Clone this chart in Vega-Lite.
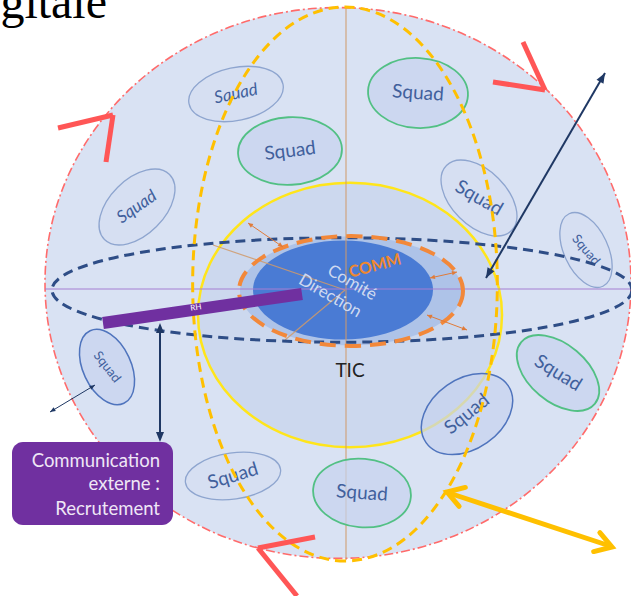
{
  "$schema": "https://vega.github.io/schema/vega-lite/v6.json",
  "width": 631,
  "height": 596,
  "padding": 0,
  "autosize": {"type": "none"},
  "background": "white",
  "config": {"view": {"stroke": null, "fill": null}},
  "datasets": {
    "squads": [
      {"id": 1, "x": 236, "y": 94, "r": 48, "form": "e55", "angle": 348, "ta": 348, "c": "thin", "f": "it", "t": "Squad"},
      {"id": 2, "x": 290, "y": 151, "r": 52, "form": "e65", "angle": 357, "ta": 353, "c": "green", "f": "big", "t": "Squad"},
      {"id": 3, "x": 418, "y": 93, "r": 50, "form": "e70", "angle": 3, "ta": 4, "c": "green", "f": "big", "t": "Squad"},
      {"id": 4, "x": 137, "y": 207, "r": 46, "form": "e60", "angle": 315, "ta": 325, "c": "thin", "f": "it", "t": "Squad"},
      {"id": 5, "x": 479, "y": 198, "r": 46, "form": "e60", "angle": 45, "ta": 30, "c": "thin", "f": "big", "t": "Squad"},
      {"id": 6, "x": 586, "y": 250, "r": 40, "form": "e55", "angle": 65, "ta": 50, "c": "thin", "f": "small", "t": "Squad"},
      {"id": 7, "x": 558, "y": 373, "r": 48, "form": "e60", "angle": 40, "ta": 32, "c": "green", "f": "big", "t": "Squad"},
      {"id": 8, "x": 467, "y": 414, "r": 50, "form": "e70", "angle": 325, "ta": 321, "c": "blue", "f": "big", "t": "Squad"},
      {"id": 9, "x": 362, "y": 493, "r": 49, "form": "e70", "angle": 5, "ta": 4, "c": "green", "f": "big", "t": "Squad"},
      {"id": 10, "x": 233, "y": 476, "r": 48, "form": "e48", "angle": 352, "ta": 343, "c": "thin", "f": "big", "t": "Squad"},
      {"id": 11, "x": 107, "y": 367, "r": 40, "form": "e60", "angle": 65, "ta": 52, "c": "blue", "f": "small", "t": "Squad"}
    ]
  },
  "encoding": {
    "x": {"field": "x", "type": "quantitative", "scale": {"domain": [0, 631], "nice": false, "zero": false}, "axis": null},
    "y": {"field": "y", "type": "quantitative", "scale": {"domain": [0, 596], "nice": false, "zero": false, "reverse": true}, "axis": null}
  },
  "layer": [
    {
      "encoding": {
        "size": {"field": "r", "type": "quantitative", "scale": {"type": "pow", "exponent": 2, "domain": [0, 300], "range": [0, 360000]}, "legend": null},
        "shape": {"field": "form", "type": "nominal", "legend": null, "scale": {
          "domain": ["e94", "e87", "e70", "e65", "e60", "e55", "e49", "e48", "e18"],
          "range": [
            "M1,0C1,0.519 0.552,0.94 0,0.94C-0.552,0.94 -1,0.519 -1,0C-1,-0.519 -0.552,-0.94 0,-0.94C0.552,-0.94 1,-0.519 1,0Z",
            "M1,0C1,0.48 0.552,0.87 0,0.87C-0.552,0.87 -1,0.48 -1,0C-1,-0.48 -0.552,-0.87 0,-0.87C0.552,-0.87 1,-0.48 1,0Z",
            "M1,0C1,0.387 0.552,0.7 0,0.7C-0.552,0.7 -1,0.387 -1,0C-1,-0.387 -0.552,-0.7 0,-0.7C0.552,-0.7 1,-0.387 1,0Z",
            "M1,0C1,0.359 0.552,0.65 0,0.65C-0.552,0.65 -1,0.359 -1,0C-1,-0.359 -0.552,-0.65 0,-0.65C0.552,-0.65 1,-0.359 1,0Z",
            "M1,0C1,0.331 0.552,0.6 0,0.6C-0.552,0.6 -1,0.331 -1,0C-1,-0.331 -0.552,-0.6 0,-0.6C0.552,-0.6 1,-0.331 1,0Z",
            "M1,0C1,0.304 0.552,0.55 0,0.55C-0.552,0.55 -1,0.304 -1,0C-1,-0.304 -0.552,-0.55 0,-0.55C0.552,-0.55 1,-0.304 1,0Z",
            "M1,0C1,0.271 0.552,0.49 0,0.49C-0.552,0.49 -1,0.271 -1,0C-1,-0.271 -0.552,-0.49 0,-0.49C0.552,-0.49 1,-0.271 1,0Z",
            "M1,0C1,0.265 0.552,0.48 0,0.48C-0.552,0.48 -1,0.265 -1,0C-1,-0.265 -0.552,-0.48 0,-0.48C0.552,-0.48 1,-0.265 1,0Z",
            "M1,0C1,0.099 0.552,0.18 0,0.18C-0.552,0.18 -1,0.099 -1,0C-1,-0.099 -0.552,-0.18 0,-0.18C0.552,-0.18 1,-0.099 1,0Z"
          ]}},
        "angle": {"field": "angle", "type": "quantitative", "scale": {"domain": [0, 360], "range": [0, 360]}, "legend": null}
      },
      "layer": [
        {"data": {"values": [{"x": 338, "y": 283, "r": 293, "form": "e94", "angle": 0}]},
         "mark": {"type": "point", "filled": true, "fill": "#d9e2f3", "stroke": "#ff6b6b", "strokeWidth": 1.6, "strokeDash": [9, 3, 2, 3], "opacity": 1}},
        {"data": {"values": [{"x": 350, "y": 315, "r": 152, "form": "e87", "angle": 0}]},
         "mark": {"type": "point", "filled": true, "fill": "#ccd8ee", "stroke": "#ffe51a", "strokeWidth": 2.5, "opacity": 1}},
        {"data": {"values": [{"x": 351, "y": 291, "r": 111, "form": "e49", "angle": 0}]},
         "mark": {"type": "point", "filled": true, "fill": "#aec3e8", "opacity": 1}},
        {"data": {"values": [{"x": 343, "y": 290, "r": 90, "form": "e55", "angle": 0}]},
         "mark": {"type": "point", "filled": true, "fill": "#4a7bd4", "opacity": 1}}
      ]
    },
    {
      "data": {"values": [{"x": 346, "y": 7, "x2": 346, "y2": 560}, {"x": 213, "y": 245, "x2": 345, "y2": 290}, {"x": 345, "y": 290, "x2": 285, "y2": 340}]},
      "mark": {"type": "rule", "stroke": "#d09a6a", "strokeWidth": 1.2, "opacity": 0.85},
      "encoding": {"x2": {"field": "x2"}, "y2": {"field": "y2"}}
    },
    {
      "data": {"values": [{"x": 45, "y": 289, "x2": 632, "y2": 289}]},
      "mark": {"type": "rule", "stroke": "#a57fd2", "strokeWidth": 1},
      "encoding": {"x2": {"field": "x2"}, "y2": {"field": "y2"}}
    },
    {
      "data": {"name": "squads"},
      "encoding": {
        "size": {"field": "r", "type": "quantitative", "scale": {"type": "pow", "exponent": 2, "domain": [0, 300], "range": [0, 360000]}, "legend": null},
        "shape": {"field": "form", "type": "nominal", "legend": null},
        "angle": {"field": "angle", "type": "quantitative", "scale": {"domain": [0, 360], "range": [0, 360]}, "legend": null}
      },
      "layer": [
        {"transform": [{"filter": "datum.c == 'thin'"}],
         "mark": {"type": "point", "filled": true, "fill": "#d3ddf1", "fillOpacity": 0.6, "stroke": "#8ea5cf", "strokeWidth": 1.3, "opacity": 1}},
        {"transform": [{"filter": "datum.c == 'green'"}],
         "mark": {"type": "point", "filled": true, "fill": "#c6d3ee", "fillOpacity": 0.7, "stroke": "#52c084", "strokeWidth": 1.8, "opacity": 1}},
        {"transform": [{"filter": "datum.c == 'blue'"}],
         "mark": {"type": "point", "filled": true, "fill": "#c6d3ee", "fillOpacity": 0.7, "stroke": "#4f74bd", "strokeWidth": 1.5, "opacity": 1}}
      ]
    },
    {
      "data": {"name": "squads"},
      "encoding": {
        "text": {"field": "t"},
        "angle": {"field": "ta", "type": "quantitative", "scale": {"domain": [0, 360], "range": [0, 360]}, "legend": null}
      },
      "layer": [
        {"transform": [{"filter": "datum.f == 'it'"}],
         "mark": {"type": "text", "font": "Lato", "fontStyle": "italic", "fontSize": 17, "color": "#41609c"}},
        {"transform": [{"filter": "datum.f == 'big'"}],
         "mark": {"type": "text", "font": "Lato", "fontSize": 19, "color": "#41609c"}},
        {"transform": [{"filter": "datum.f == 'small'"}],
         "mark": {"type": "text", "font": "Lato", "fontSize": 13, "color": "#41609c"}}
      ]
    },
    {
      "encoding": {
        "size": {"field": "r", "type": "quantitative", "scale": {"type": "pow", "exponent": 2, "domain": [0, 300], "range": [0, 360000]}, "legend": null},
        "shape": {"field": "form", "type": "nominal", "legend": null},
        "angle": {"field": "angle", "type": "quantitative", "scale": {"domain": [0, 360], "range": [0, 360]}, "legend": null}
      },
      "layer": [
        {"data": {"values": [{"x": 342, "y": 290, "r": 290, "form": "e18", "angle": 0}]},
         "mark": {"type": "point", "filled": false, "stroke": "#2e4d86", "strokeWidth": 3, "strokeDash": [10, 6], "opacity": 1}},
        {"data": {"values": [{"x": 351, "y": 291, "r": 112, "form": "e49", "angle": 0}]},
         "mark": {"type": "point", "filled": false, "stroke": "#f2883a", "strokeWidth": 4, "strokeDash": [16, 9], "opacity": 1}},
        {"data": {"values": [{"x": 345, "y": 284, "r": 277, "form": "e55", "angle": 90}]},
         "mark": {"type": "point", "filled": false, "stroke": "#ffc000", "strokeWidth": 3, "strokeDash": [10, 6], "opacity": 1}}
      ]
    },
    {
      "data": {"values": [{"x": 103, "y": 323, "x2": 302, "y2": 294}]},
      "mark": {"type": "rule", "stroke": "#7030a0", "strokeWidth": 12, "strokeCap": "butt"},
      "encoding": {"x2": {"field": "x2"}, "y2": {"field": "y2"}}
    },
    {
      "data": {"values": [{"x": 605, "y": 73, "x2": 486, "y2": 278}, {"x": 160, "y": 326, "x2": 160, "y2": 439}]},
      "mark": {"type": "rule", "stroke": "#1f3864", "strokeWidth": 2},
      "encoding": {"x2": {"field": "x2"}, "y2": {"field": "y2"}}
    },
    {
      "data": {"values": [{"x": 50, "y": 412, "x2": 95, "y2": 385}]},
      "mark": {"type": "rule", "stroke": "#1f3864", "strokeWidth": 1},
      "encoding": {"x2": {"field": "x2"}, "y2": {"field": "y2"}}
    },
    {
      "data": {"values": [{"x": 248, "y": 223, "x2": 283, "y2": 247}, {"x": 430, "y": 278, "x2": 457, "y2": 272}, {"x": 427, "y": 315, "x2": 467, "y2": 330}]},
      "mark": {"type": "rule", "stroke": "#e07b39", "strokeWidth": 1},
      "encoding": {"x2": {"field": "x2"}, "y2": {"field": "y2"}}
    },
    {
      "data": {"values": [{"x": 449, "y": 493, "x2": 610, "y2": 546}]},
      "mark": {"type": "rule", "stroke": "#ffc000", "strokeWidth": 5},
      "encoding": {"x2": {"field": "x2"}, "y2": {"field": "y2"}}
    },
    {
      "encoding": {
        "angle": {"field": "dir", "type": "quantitative", "scale": {"domain": [0, 360], "range": [0, 360]}, "legend": null}
      },
      "layer": [
        {"data": {"values": [{"x": 605, "y": 73, "dir": 30}, {"x": 486, "y": 278, "dir": 210}, {"x": 160, "y": 323, "dir": 0}, {"x": 160, "y": 442, "dir": 180}]},
         "mark": {"type": "point", "shape": "M0,0L-0.8,2L0.8,2Z", "size": 100, "filled": true, "fill": "#1f3864", "opacity": 1}},
        {"data": {"values": [{"x": 95, "y": 385, "dir": 59}, {"x": 50, "y": 412, "dir": 239}]},
         "mark": {"type": "point", "shape": "M0,0L-0.8,2L0.8,2Z", "size": 30, "filled": true, "fill": "#1f3864", "opacity": 1}},
        {"data": {"values": [{"x": 248, "y": 223, "dir": 304}, {"x": 283, "y": 247, "dir": 124}, {"x": 430, "y": 278, "dir": 257}, {"x": 457, "y": 272, "dir": 77}, {"x": 427, "y": 315, "dir": 291}, {"x": 467, "y": 330, "dir": 111}]},
         "mark": {"type": "point", "shape": "M0,0L-0.9,2L0.9,2Z", "size": 25, "filled": true, "fill": "#e07b39", "opacity": 1}},
        {"data": {"values": [{"x": 447, "y": 492, "dir": 288}, {"x": 612, "y": 547, "dir": 108}]},
         "mark": {"type": "point", "shape": "M-1,1.6L0,0L1,1.6", "size": 400, "filled": false, "stroke": "#ffc000", "strokeWidth": 5, "strokeCap": "round", "opacity": 1}}
      ]
    },
    {
      "data": {"values": [
        {"x": 58, "y": 128, "x2": 113, "y2": 115}, {"x": 113, "y": 115, "x2": 106, "y2": 162},
        {"x": 523, "y": 42, "x2": 545, "y2": 90}, {"x": 493, "y": 82, "x2": 545, "y2": 90},
        {"x": 315, "y": 537, "x2": 258, "y2": 548}, {"x": 258, "y": 548, "x2": 297, "y2": 596}
      ]},
      "mark": {"type": "rule", "stroke": "#ff5656", "strokeWidth": 5, "strokeCap": "butt"},
      "encoding": {"x2": {"field": "x2"}, "y2": {"field": "y2"}}
    },
    {
      "data": {"values": [{"x": 12, "y": 442, "x2": 173, "y2": 525}]},
      "mark": {"type": "rect", "fill": "#7030a0", "cornerRadius": 11},
      "encoding": {"x2": {"field": "x2"}, "y2": {"field": "y2"}}
    },
    {
      "data": {"values": [{"x": 160, "y": 467, "t": "Communication"}, {"x": 160, "y": 490, "t": "externe :"}, {"x": 160, "y": 515, "t": "Recrutement"}]},
      "mark": {"type": "text", "font": "Lato", "fontSize": 18.5, "align": "right", "baseline": "alphabetic", "color": "#efe6f6"},
      "encoding": {"text": {"field": "t"}}
    },
    {
      "data": {"values": [{"x": 350, "y": 377, "t": "TIC"}]},
      "mark": {"type": "text", "font": "Lato", "fontSize": 19, "align": "center", "baseline": "alphabetic", "color": "#222222"},
      "encoding": {"text": {"field": "t"}}
    },
    {
      "data": {"values": [{"x": 107, "y": 18, "t": "gitale"}]},
      "mark": {"type": "text", "font": "Liberation Serif", "fontSize": 48, "align": "right", "baseline": "alphabetic", "color": "#000000"},
      "encoding": {"text": {"field": "t"}}
    },
    {
      "encoding": {
        "text": {"field": "t"},
        "angle": {"field": "ta", "type": "quantitative", "scale": {"domain": [0, 360], "range": [0, 360]}, "legend": null}
      },
      "layer": [
        {"data": {"values": [{"x": 352, "y": 283, "t": "Comité", "ta": 30}, {"x": 330, "y": 296, "t": "Direction", "ta": 30}]},
         "mark": {"type": "text", "font": "Lato", "fontSize": 17, "color": "#cfdaf0"}},
        {"data": {"values": [{"x": 375, "y": 266, "t": "COMM", "ta": 345}]},
         "mark": {"type": "text", "font": "Lato", "fontWeight": "bold", "fontSize": 16, "color": "#f0882f"}},
        {"data": {"values": [{"x": 196, "y": 308, "t": "RH", "ta": 352}]},
         "mark": {"type": "text", "font": "Lato", "fontSize": 8, "color": "#ffffff"}}
      ]
    }
  ]
}
